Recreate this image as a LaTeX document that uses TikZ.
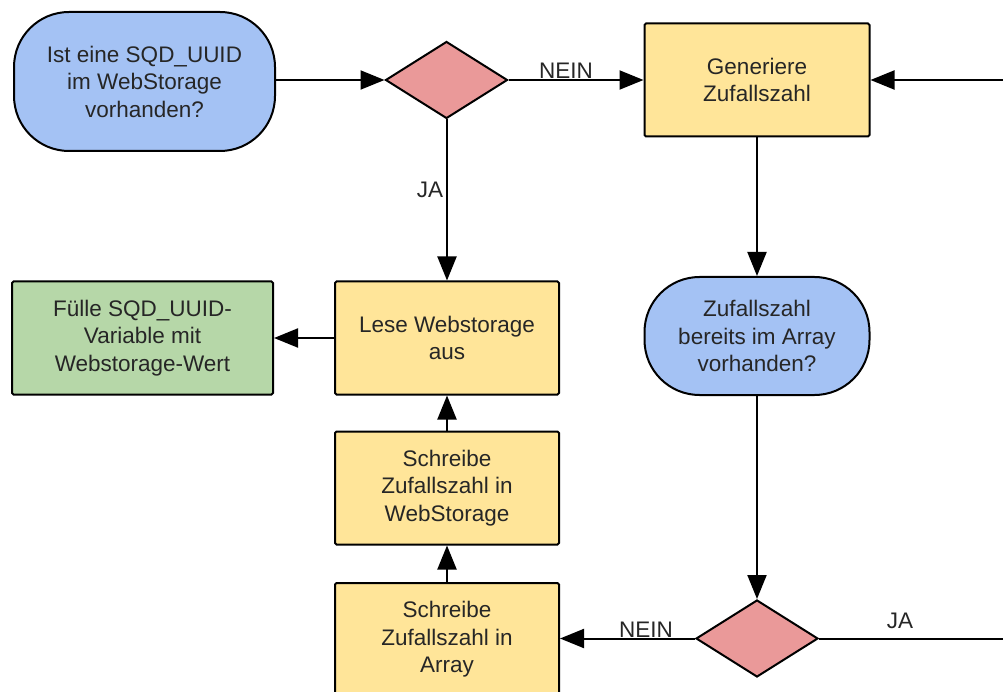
\documentclass[tikz,border=0pt]{standalone}
\usepackage{fontspec}
\setmainfont{Liberation Sans}
\usetikzlibrary{arrows.meta,shapes.geometric}
\definecolor{qblue}{HTML}{A4C2F4}
\definecolor{dred}{HTML}{EA9999}
\definecolor{pyellow}{HTML}{FFE599}
\definecolor{rgreen}{HTML}{B6D7A8}
\definecolor{txt}{HTML}{262626}
\begin{document}
\begin{tikzpicture}[x=1pt,y=-1pt,
  every node/.style={font=\fontsize{22.5}{27.5}\selectfont, text=txt},
  base/.style={draw=black, line width=2pt, align=center, inner sep=0pt},
  procbox/.style={base, rectangle, rounded corners=1.5pt, fill=pyellow,
    minimum width=224pt, minimum height=113pt},
  donebox/.style={procbox, fill=rgreen, minimum width=261pt},
  askbox/.style={base, rectangle, rounded corners=55pt, fill=qblue},
  choice/.style={base, diamond, aspect=1.6, fill=dred,
    minimum width=122pt, minimum height=77pt},
  flow/.style={line width=2pt, -{Triangle[length=24pt,width=19pt]}},
  plain/.style={line width=2pt},
  lbl/.style={inner sep=0pt}
]
\useasboundingbox (0,0) rectangle (1003,692);

% question boxes
\node[askbox, minimum width=261pt, minimum height=139pt] (q1) at (144.5,81.5)
  {Ist eine SQD\_UUID\\im WebStorage\\vorhanden?};
\node[askbox, minimum width=225pt, minimum height=118pt] (q2) at (757,336)
  {Zufallszahl\\bereits im Array\\vorhanden?};

% decisions
\node[choice] (d1) at (446.5,80) {};
\node[choice] (d2) at (757,638.5) {};

% process steps
\node[procbox, minimum width=225pt] (gen) at (757,80) {Generiere\\Zufallszahl};
\node[procbox] (lese) at (447,338) {Lese Webstorage\\aus};
\node[procbox] (web) at (447,488) {Schreibe\\Zufallszahl in\\WebStorage};
\node[procbox] (arr) at (447,639.5) {Schreibe\\Zufallszahl in\\Array};
\node[donebox] (fill) at (142.5,338) {Fülle SQD\_UUID-\\Variable mit\\Webstorage-Wert};

% loose ends at the right border
\coordinate (inTop) at (1003,80);
\coordinate (outBot) at (1003,638.5);

% connectors
\draw[flow] (q1.east |- d1.west) -- (d1.west);
\draw[flow] (d1.east) -- (gen.west);
\draw[flow] (inTop) -- (gen.east);
\draw[flow] (gen.south) -- (q2.north);
\draw[flow] (q2.south) -- (d2.north);
\draw[flow] (d2.west) -- (d2.west -| arr.east);
\draw[plain] (d2.east) -- (outBot);
\draw[flow] (arr.north) -- (web.south);
\draw[flow] (web.north) -- (lese.south);
\draw[flow] (d1.south -| lese.north) -- (lese.north);
\draw[flow] (lese.west) -- (fill.east);

% branch labels
\node[lbl] (l1) at (566,71) {NEIN};
\node[lbl] (l2) at (430,190) {JA};
\node[lbl] (l3) at (646,630) {NEIN};
\node[lbl] (l4) at (900,621) {JA};
\end{tikzpicture}
\end{document}
